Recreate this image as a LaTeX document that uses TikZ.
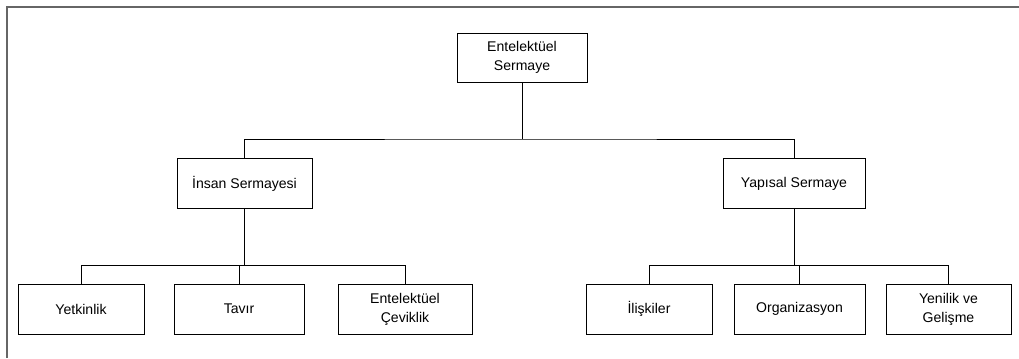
\documentclass[tikz,border=0pt]{standalone}
\usepackage{fontspec}
\setmainfont{Liberation Sans}
\begin{document}
\begin{tikzpicture}[x=0.025cm, y=-0.025cm, line width=0.6pt, box node/.style={rectangle,draw=black,fill=white,minimum height=1.25cm,inner sep=0pt,align=center,font=\fontsize{10}{13.5}\selectfont}]%
\useasboundingbox (0,0) rectangle (1019,358);
\draw[draw=black!60, line width=1.3pt] (7,358) -- (7,7) -- (1019,7);
\begin{scope}%[every node/.style={box node}]
\node[box node, minimum width=3.25cm, minimum height=1.225cm] (es) at (522,57.5) {Entelektüel\\Sermaye};
\node[box node, minimum width=3.375cm] (is) at (244.5,183.5) {İnsan Sermayesi};
\node[box node, minimum width=3.55cm] (ys) at (794,183.5) {Yapısal Sermaye};
\node[box node, minimum width=3.15cm] (yet) at (81,309) {Yetkinlik};
\node[box node, minimum width=3.25cm] (tav) at (239,309) {Tavır};
\node[box node, minimum width=3.35cm] (cev) at (405,309) {Entelektüel\\Çeviklik};
\node[box node, minimum width=3.15cm] (ili) at (649,309) {İlişkiler};
\node[box node, minimum width=3.275cm] (org) at (799.5,309) {Organizasyon};
\node[box node, minimum width=3.125cm] (yen) at (948.5,309) {Yenilik ve\\Gelişme};
\end{scope}
\coordinate (b0) at (522,139);
\coordinate (b1) at (244.5,265.5);
\coordinate (b2) at (794,265.5);
\begin{scope}
\draw (es.south) -- (b0);
\draw (is.north) |- (b0) -| (ys.north);
\draw (is.south) -- (b1);
\draw (yet.north) |- (b1) -| (cev.north);
\draw (tav.north) -- (tav.north |- b1);
\draw (ys.south) -- (b2);
\draw (ili.north) |- (b2) -| (yen.north);
\draw (org.north) -- (org.north |- b2);
\end{scope}
\end{tikzpicture}
\end{document}
